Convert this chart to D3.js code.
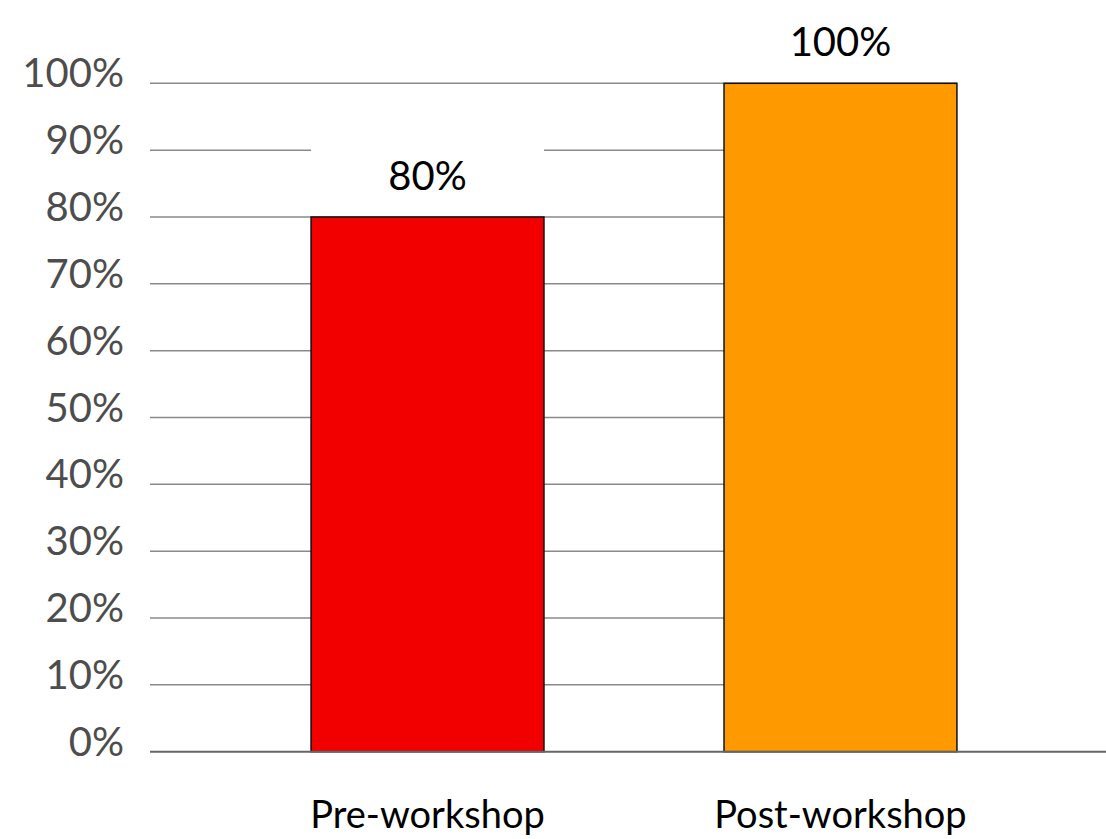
<!DOCTYPE html>
<html>
<head>
<meta charset="utf-8">
<script src="https://cdn.jsdelivr.net/npm/d3@7"></script>
<style>
  html, body { margin: 0; padding: 0; background: #fff; }
  svg { display: block; }
  text { font-family: Lato, "Liberation Sans", sans-serif; }
</style>
</head>
<body>
<svg id="chart" width="1106" height="839"></svg>
<script>
const categories = ["Pre-workshop", "Post-workshop"];
const values = [0.80, 1.00];
const barColors = ["#F20000", "#FF9900"];
const yTicks = [0, 0.1, 0.2, 0.3, 0.4, 0.5, 0.6, 0.7, 0.8, 0.9, 1.0];

const svg = d3.select("#chart");
const W = 1106, H = 839;
const plotLeft = 150, plotTop = 83.3, plotBottom = 751.7;

const y = d3.scaleLinear().domain([0, 1]).range([plotBottom, plotTop]);
const x = d3.scaleBand().domain(categories).range([plotLeft, 1118])
  .paddingInner(0.436).paddingOuter(0.39);

const fmt = d3.format(".0%");

// gridlines
const gridRight = x(categories[1]) + x.bandwidth();
svg.append("g").selectAll("line").data(yTicks.filter(d => d > 0)).join("line")
  .attr("x1", plotLeft).attr("x2", gridRight)
  .attr("y1", d => y(d)).attr("y2", d => y(d))
  .attr("stroke", "#8a8a8a").attr("stroke-width", 1.5);

// y tick labels
svg.append("g").selectAll("text").data(yTicks).join("text")
  .attr("x", 124).attr("y", d => y(d) + 4)
  .attr("text-anchor", "end")
  .attr("font-size", 40)
  .attr("fill", "#4d4d4d")
  .text(d => fmt(d));

// bars
svg.append("g").selectAll("rect").data(values).join("rect")
  .attr("x", (d, i) => x(categories[i]))
  .attr("y", d => y(d))
  .attr("width", x.bandwidth())
  .attr("height", d => y(0) - y(d))
  .attr("fill", (d, i) => barColors[i])
  .attr("stroke", "#111")
  .attr("stroke-width", 1.5);

// baseline
svg.append("line")
  .attr("x1", plotLeft).attr("x2", W)
  .attr("y1", y(0)).attr("y2", y(0))
  .attr("stroke", "#666").attr("stroke-width", 2);

// value labels with white background
const lbl = svg.append("g").selectAll("g").data(values).join("g");
lbl.append("rect")
  .attr("x", (d, i) => x(categories[i]))
  .attr("y", d => y(d) - 70)
  .attr("width", x.bandwidth())
  .attr("height", 60)
  .attr("fill", "#fff");
lbl.append("text")
  .attr("x", (d, i) => x(categories[i]) + x.bandwidth() / 2)
  .attr("y", d => y(d) - 27)
  .attr("text-anchor", "middle")
  .attr("font-size", 40)
  .attr("fill", "#000")
  .text(d => fmt(d));

// category labels
svg.append("g").selectAll("text").data(categories).join("text")
  .attr("x", d => x(d) + x.bandwidth() / 2)
  .attr("y", 828)
  .attr("text-anchor", "middle")
  .attr("font-size", 38)
  .attr("fill", "#000")
  .text(d => d);
</script>
</body>
</html>
